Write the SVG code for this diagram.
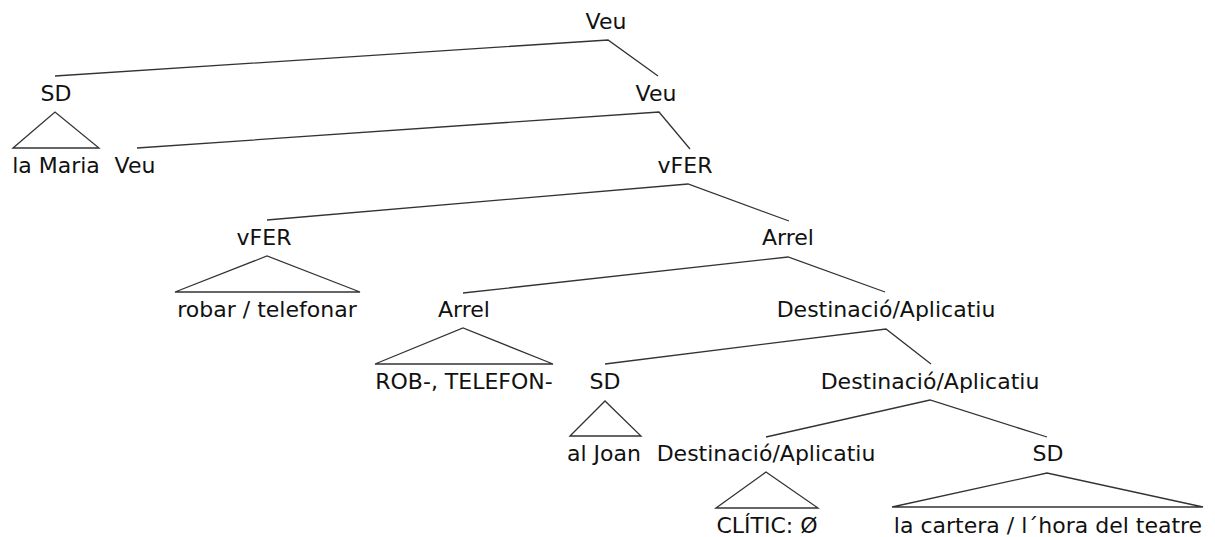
<svg xmlns="http://www.w3.org/2000/svg" width="1215" height="537" viewBox="0 0 1215 537">
<style>
text{font-family:"DejaVu Sans","Verdana",sans-serif;font-size:22px;fill:#111;text-anchor:middle}
.e{stroke:#333;stroke-width:1.3;fill:none}
</style>
<rect width="1215" height="537" fill="#fff"/>
<g id="connectors">
<path class="e" d="M55,76 L608,40 L658,76"/>
<path class="e" d="M137,148 L659,112 L690,149"/>
<path class="e" d="M267,220 L688,184 L789,221"/>
<path class="e" d="M463,293 L788,257 L885,292"/>
<path class="e" d="M605,364 L886,329 L931,364"/>
<path class="e" d="M766,437 L930,400 L1047,437"/>
</g>
<g id="n-veu1"><text x="606" y="29">Veu</text></g>
<g id="n-sd1"><text x="56" y="101">SD</text><path class="e" d="M13,148 L55,112 L99,148 Z"/></g>
<g id="n-lamaria"><text x="56" y="173">la Maria</text></g>
<g id="n-veu2"><text x="656" y="101">Veu</text></g>
<g id="n-veu3"><text x="135" y="173">Veu</text></g>
<g id="n-vfer1"><text x="685" y="173">vFER</text></g>
<g id="n-vfer2"><text x="264" y="245">vFER</text><path class="e" d="M175,292 L267,256 L360,292 Z"/></g>
<g id="n-robar"><text x="267" y="317">robar / telefonar</text></g>
<g id="n-arrel1"><text x="788" y="245">Arrel</text></g>
<g id="n-arrel2"><text x="464" y="317">Arrel</text><path class="e" d="M375,364 L463,328 L553,364 Z"/></g>
<g id="n-rob"><text x="464" y="389">ROB-, TELEFON-</text></g>
<g id="n-dest1"><text x="886" y="317">Destinació/Aplicatiu</text></g>
<g id="n-sd2"><text x="605" y="389">SD</text><path class="e" d="M570,436 L605,401 L641,436 Z"/></g>
<g id="n-aljoan"><text x="604" y="461">al Joan</text></g>
<g id="n-dest2"><text x="930" y="389">Destinació/Aplicatiu</text></g>
<g id="n-dest3"><text x="766" y="461">Destinació/Aplicatiu</text><path class="e" d="M716,508 L766,472 L818,508 Z"/></g>
<g id="n-clitic"><text x="767" y="533">CLÍTIC: Ø</text></g>
<g id="n-sd3"><text x="1048" y="461">SD</text><path class="e" d="M892,507 L1047,473 L1203,507 Z"/></g>
<g id="n-cartera"><text x="1048" y="533">la cartera / l´hora del teatre</text></g>
</svg>
